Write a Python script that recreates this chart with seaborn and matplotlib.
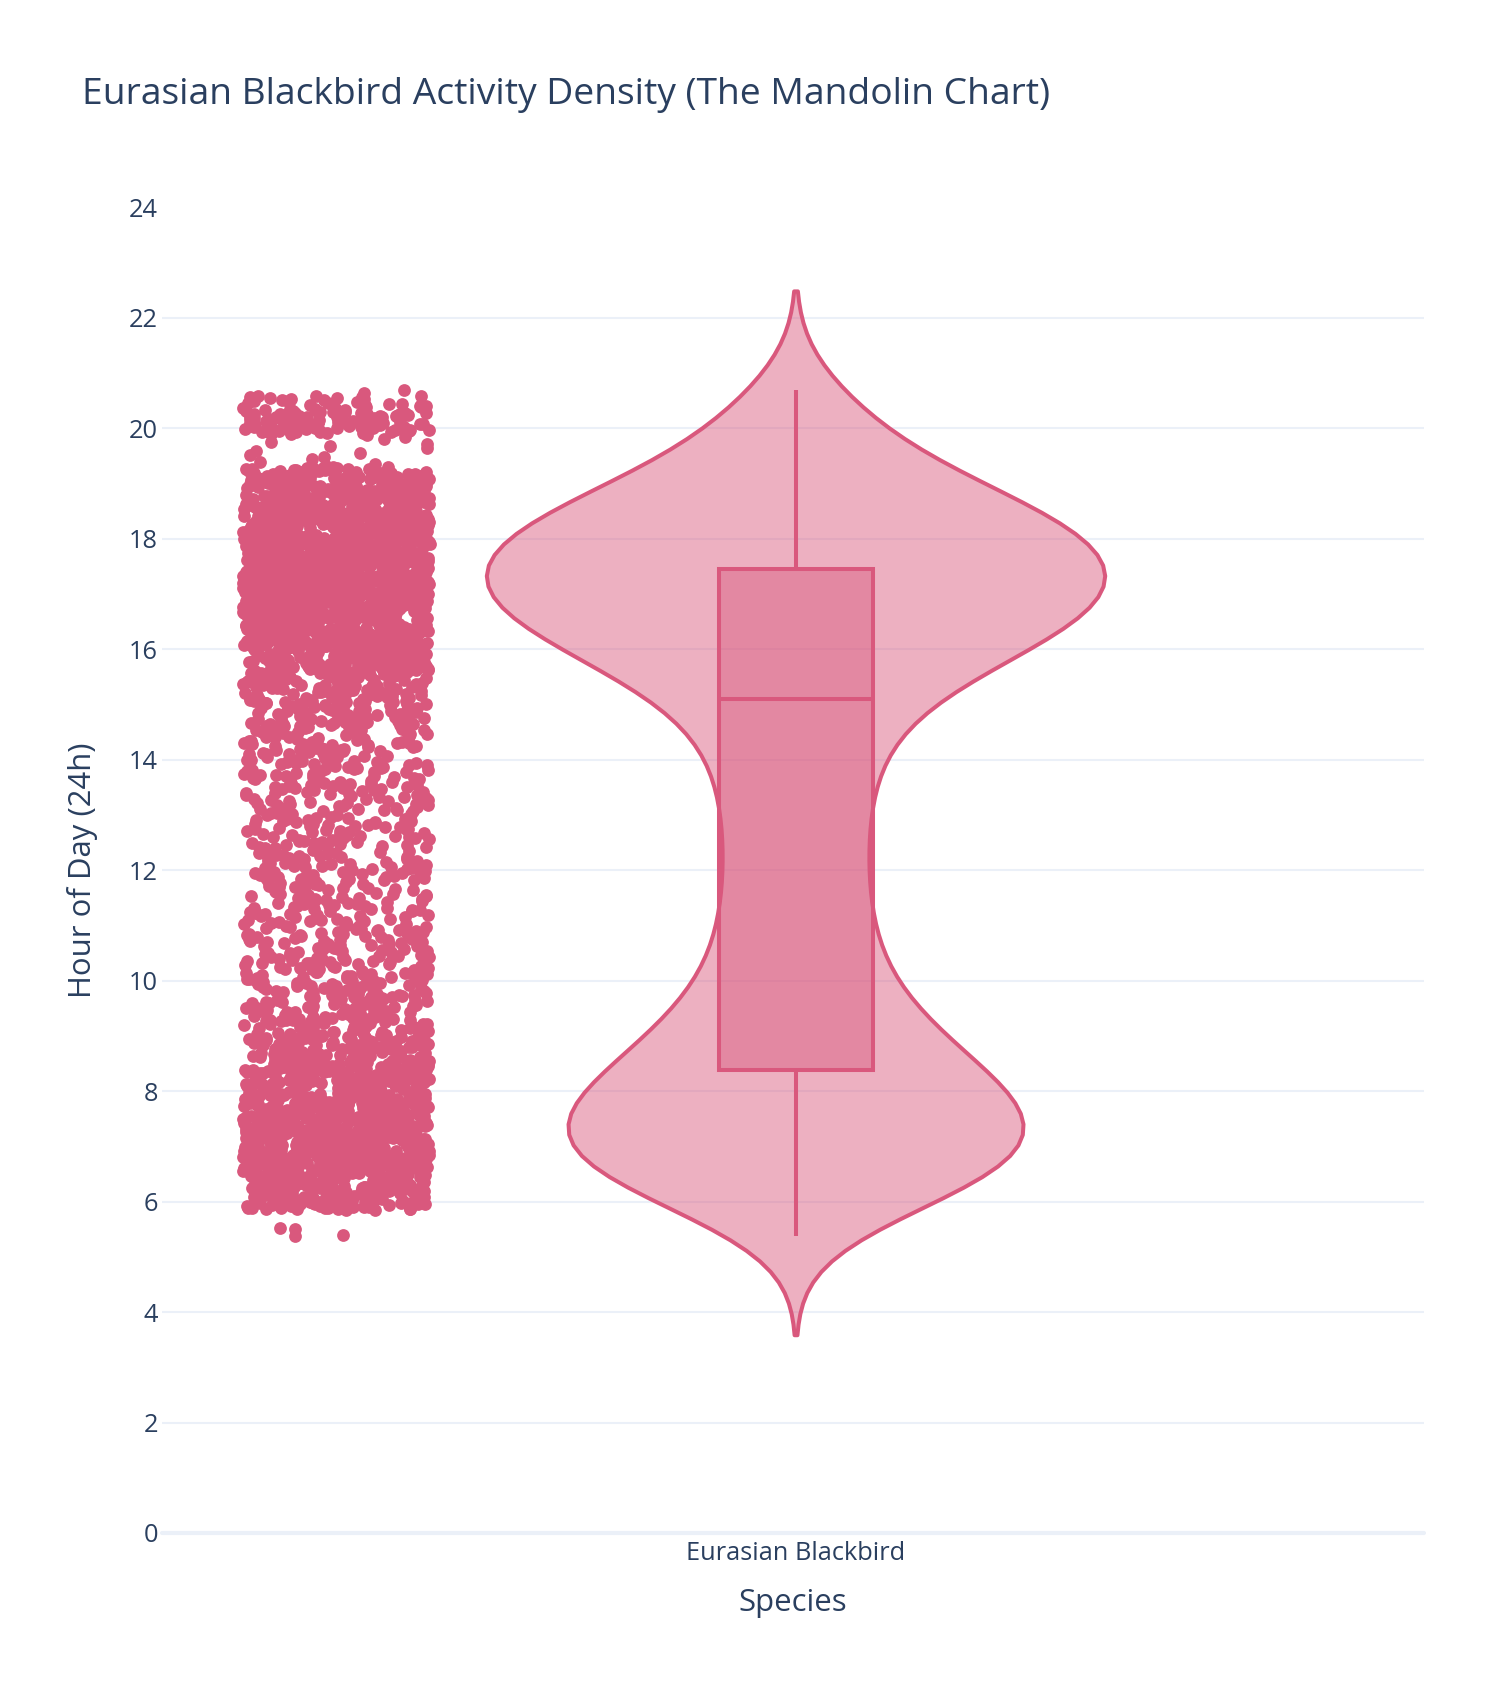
import numpy as np
import pandas as pd
import matplotlib
matplotlib.use("Agg")
import matplotlib.pyplot as plt
import seaborn as sns
from matplotlib.colors import to_rgba

# sightings per hour bin
bin_lo = [5.85, 6.0, 6.5, 7.0, 7.5, 8.0, 8.5, 9.0, 9.5, 10.0, 10.5, 11.0, 11.5, 12.0,
          12.5, 13.0, 13.5, 14.0, 14.5, 15.0, 15.5, 16.0, 16.5, 17.0, 17.5, 18.0,
          18.5, 19.0, 19.3, 19.9, 20.3]
bin_hi = [6.0, 6.5, 7.0, 7.5, 8.0, 8.5, 9.0, 9.5, 10.0, 10.5, 11.0, 11.5, 12.0, 12.5,
          13.0, 13.5, 14.0, 14.5, 15.0, 15.5, 16.0, 16.5, 17.0, 17.5, 18.0, 18.5,
          19.0, 19.3, 19.9, 20.3, 20.6]
bin_count = [40, 160, 190, 195, 170, 140, 115, 90, 65, 60, 55, 50, 50, 50,
             50, 50, 55, 60, 70, 85, 135, 205, 235, 250, 235, 215,
             175, 75, 15, 90, 35]
# a few stray records outside the main blocks
stray_hours = [5.38, 5.40, 5.50, 5.52, 20.65, 20.70]

species = "Eurasian Blackbird"

LINE = "#d9587d"
TXT = "#2a3f5f"
GRID = "#ebf0f8"
POINT_POS = -0.364

hours = []
for lo, hi, n in zip(bin_lo, bin_hi, bin_count):
    hours.extend(lo + (np.arange(n) + 0.5) / n * (hi - lo))
hours.extend(stray_hours)
df = pd.DataFrame({"hour": hours})
df["species"] = species
df["pos"] = 0.0

sns.set_theme(style="white")
plt.rcParams["font.family"] = ["Open Sans", "DejaVu Sans"]

W, H = 1504, 1702
fig = plt.figure(figsize=(W / 100, H / 100), dpi=100)
L, R, T, B = 162, 1424, 207.5, 1533
ax = fig.add_axes([L / W, 1 - B / H, (R - L) / W, (B - T) / H])

for yv in range(2, 23, 2):
    ax.axhline(yv, color=GRID, lw=1.5, zorder=0)
ax.axhline(0, color=GRID, lw=3, zorder=0, clip_on=False)

sns.violinplot(data=df, x="pos", y="hour", native_scale=True, width=0.49, cut=2,
               bw_method="silverman", bw_adjust=0.93, inner=None, color=LINE,
               linecolor=LINE, linewidth=2.9, saturation=1, ax=ax)
for c in ax.collections:
    c.set_facecolor(to_rgba(LINE, 0.47))
    c.set_edgecolor(LINE)

sns.boxplot(data=df, x="pos", y="hour", native_scale=True, width=0.122,
            whis=(0, 100), showcaps=False, showfliers=False, color=LINE,
            linecolor=LINE, linewidth=2.9, saturation=1, ax=ax)
for p in ax.patches:
    p.set_facecolor(to_rgba(LINE, 0.45))
    p.set_edgecolor(LINE)

np.random.seed(3)
strip = df.assign(pos=POINT_POS)
sns.stripplot(data=strip, x="pos", y="hour", native_scale=True, jitter=0.074,
              size=9.2, color=LINE, linewidth=0, ax=ax)

ax.set_xlim(-0.502, 0.498)
ax.set_ylim(0, 24)
ax.set_xticks([0])
ax.set_xticklabels([species])
ax.set_yticks(range(0, 25, 2))
ax.set_xlabel("")
ax.set_ylabel("")
for s in ax.spines.values():
    s.set_visible(False)
ax.tick_params(axis="both", length=0, labelsize=18.3, colors=TXT)
ax.tick_params(axis="y", pad=3)
ax.tick_params(axis="x", pad=6)
ax.grid(False)

fig.text(82 / W, 1 - 95 / H, "Eurasian Blackbird Activity Density (The Mandolin Chart)",
         ha="left", va="center", fontsize=26.8, color=TXT)
fig.text(793 / W, 1 - 1603 / H, "Species", ha="center", va="center",
         fontsize=22.4, color=TXT)
fig.text(82 / W, 1 - 870 / H, "Hour of Day (24h)", ha="center", va="center",
         rotation=90, fontsize=22.4, color=TXT)

fig.savefig("out.png", dpi=100, facecolor="white")
